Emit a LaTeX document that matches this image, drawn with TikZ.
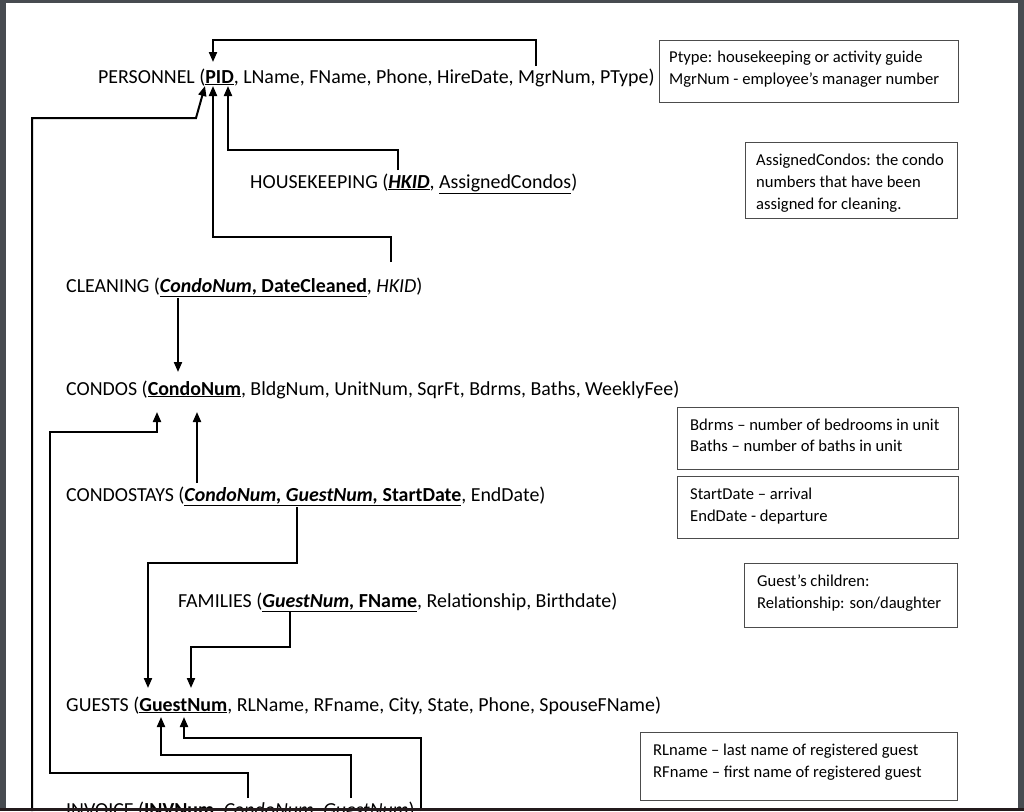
\documentclass[tikz,border=0pt]{standalone}
\usepackage{fontspec}
\setmainfont{Carlito}
\usetikzlibrary{arrows.meta}
\definecolor{frame}{HTML}{474B50}
\definecolor{framebot}{HTML}{231A1C}
\begin{document}
\begin{tikzpicture}[x=1pt,y=-1pt,
  rel/.style={anchor=base west, inner sep=0pt, font=\fontsize{19.9}{22}\selectfont},
  ntext/.style={anchor=base west, inner sep=0pt, font=\fontsize{16.6}{19}\selectfont},
  nbox/.style={draw=black!70, line width=1pt, anchor=north west, inner sep=0pt},
  conn/.style={line width=2pt, -{Triangle[length=10pt,width=8pt]}},
  link/.style={line width=2pt}]
\clip (0,0) rectangle (1024,811);
\fill[white] (0,0) rectangle (1024,811);

% relations
\node[rel] (pers) at (98,83) {PERSONNEL (\underline{\textbf{PID}}, LName, FName, Phone, HireDate, MgrNum, PType)};
\node[rel] (hk) at (250,188) {HOUSEKEEPING (\underline{\textbf{\textit{HKID}}}, \underline{AssignedCondos})};
\node[rel] (cl) at (66,292) {CLEANING (\underline{\textbf{\textit{CondoNum}}\textbf{, DateCleaned}}, \textit{HKID})};
\node[rel] (co) at (66,395) {CONDOS (\underline{\textbf{CondoNum}}, BldgNum, UnitNum, SqrFt, Bdrms, Baths, WeeklyFee)};
\node[rel] (cs) at (66,501) {CONDOSTAYS (\underline{\textbf{\textit{CondoNum, GuestNum,}} \textbf{StartDate}}, EndDate)};
\node[rel] (fa) at (178,607) {FAMILIES (\underline{\textbf{\textit{GuestNum,}} \textbf{FName}}, Relationship, Birthdate)};
\node[rel] (gu) at (66,711) {GUESTS (\underline{\textbf{GuestNum}}, RLName, RFname, City, State, Phone, SpouseFName)};
\node[rel] (inv) at (66,816) {INVOICE (\underline{\textbf{INVNum}}, \textit{CondoNum}, \textit{GuestNum})};

% notes
\node[nbox, minimum width=299pt, minimum height=62pt] (b1) at (659,40) {};
\node[ntext] (b1a) at (669,62) {Ptype: housekeeping or activity guide};
\node[ntext] (b1b) at (669,84) {MgrNum - employee’s manager number};

\node[nbox, minimum width=212pt, minimum height=76pt] (b2) at (745,142) {};
\node[ntext] (b2a) at (756,165) {AssignedCondos: the condo};
\node[ntext] (b2b) at (756,187) {numbers that have been};
\node[ntext] (b2c) at (756,209) {assigned for cleaning.};

\node[nbox, minimum width=281pt, minimum height=62pt] (b3) at (677,407) {};
\node[ntext] (b3a) at (690,430) {Bdrms – number of bedrooms in unit};
\node[ntext] (b3b) at (690,451) {Baths – number of baths in unit};

\node[nbox, minimum width=281pt, minimum height=62pt] (b4) at (677,476) {};
\node[ntext] (b4a) at (690,499) {StartDate – arrival};
\node[ntext] (b4b) at (690,521) {EndDate - departure};

\node[nbox, minimum width=213pt, minimum height=64pt] (b5) at (744,563) {};
\node[ntext] (b5a) at (757,586) {Guest’s children:};
\node[ntext] (b5b) at (757,608) {Relationship: son/daughter};

\node[nbox, minimum width=317pt, minimum height=68pt] (b6) at (640,732) {};
\node[ntext] (b6a) at (653,755) {RLname – last name of registered guest};
\node[ntext] (b6b) at (653,777) {RFname – first name of registered guest};

% connector end points
\coordinate (mgr) at (536,66);
\coordinate (pidA) at (213,62);
\coordinate (pidB) at (205,86);
\coordinate (pidC) at (213,86);
\coordinate (pidD) at (228,86);
\coordinate (clHK) at (391,262);
\coordinate (hkID) at (398,170);
\coordinate (clCN) at (178,298);
\coordinate (coA) at (157,412);
\coordinate (coB) at (197,412);
\coordinate (csCN) at (197,483);
\coordinate (csGN) at (297,507);
\coordinate (faGN) at (290,612);
\coordinate (guA) at (148,688);
\coordinate (guB) at (191,688);
\coordinate (guC) at (161,717);
\coordinate (guD) at (184,717);
\coordinate (invCN) at (248,798);
\coordinate (invGN) at (351,798);
\coordinate (invX) at (421,811);
\coordinate (invY) at (32,811);

% connectors
\draw[conn] (mgr) -- (536,40) -| (pidA);
\draw[conn] (invY) -- (32,118) -- (196,118) -- (pidB);
\draw[conn] (clHK) -- (391,237) -| (pidC);
\draw[conn] (hkID) -- (398,150) -| (pidD);
\draw[conn] (clCN) -- (178,372);
\draw[conn] (csCN) -- (coB);
\draw[conn] (invCN) -- (248,773) -| (50,432) -| (coA);
\draw[conn] (csGN) -- (297,563) -| (guA);
\draw[conn] (faGN) -- (290,647) -| (guB);
\draw[conn] (invGN) -- (351,755) -| (guC);
\draw[conn] (invX) -- (421,738) -| (guD);

% page frame
\fill[frame] (0,0) rectangle (6,811);
\fill[frame] (1018,0) rectangle (1024,811);
\fill[frame] (0,0) rectangle (1024,3);
\fill[framebot] (0,808) rectangle (1024,811);
\end{tikzpicture}
\end{document}
